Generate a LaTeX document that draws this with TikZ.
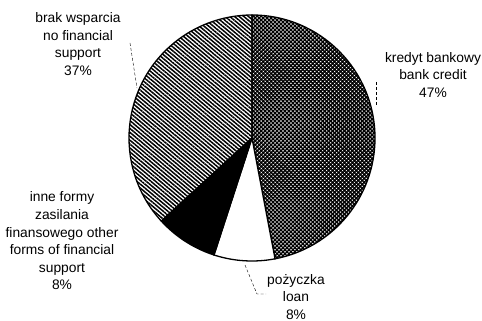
\documentclass[tikz,border=0pt]{standalone}
\usepackage{fontspec}
\setmainfont{Liberation Sans}
\usetikzlibrary{patterns.meta}
\begin{document}
\begin{tikzpicture}[x=1pt,y=-1pt,
  lbl/.style={align=center,font=\fontsize{13.8}{17.6}\selectfont,inner sep=0pt},
  leader/.style={line width=0.4pt,densely dashed},
  slice/.style={draw=black,line width=1.3pt}]
\useasboundingbox (0,0) rectangle (482,321);
\begin{scope}[shift={(252,138)},y=1pt]
\def\R{123}
\coordinate (c) at (0,0);
% bank credit 47%
\filldraw[slice,pattern={Hatch[angle=45,distance=2.8pt,line width=1.4pt]}]
  (c) -- (90:\R) arc[start angle=90,end angle=-79.2,radius=\R] -- cycle;
% loan 8%
\filldraw[slice,fill=white]
  (c) -- (-79.2:\R) arc[start angle=-79.2,end angle=-108,radius=\R] -- cycle;
% other forms 8%
\filldraw[slice,fill=black]
  (c) -- (-108:\R) arc[start angle=-108,end angle=-137.5,radius=\R] -- cycle;
% no financial support 37%
\filldraw[slice,pattern={Lines[angle=-40,distance=3pt,line width=1.5pt]}]
  (c) -- (-137.5:\R) arc[start angle=-137.5,end angle=-270,radius=\R] -- cycle;
\end{scope}
% labels
\node[lbl] (nofin) at (78,44) {brak wsparcia\\no financial\\support\\37\%};
\node[lbl] (bank) at (433,75) {kredyt bankowy\\bank credit\\47\%};
\node[lbl] (other) at (62,241) {inne formy\\zasilania\\finansowego other\\forms of financial\\support\\8\%};
\node[lbl] (loan) at (296,297) {pożyczka\\loan\\8\%};
% leaders
\coordinate (l1a) at (130,43);
\coordinate (l1b) at (137,88);
\draw[leader] (l1a) -- (l1b);
\coordinate (l2a) at (376,82);
\coordinate (l2b) at (376,106);
\draw[leader] (l2a) -- (l2b);
\coordinate (l3a) at (245,265);
\coordinate (l3b) at (257,294);
\coordinate (l3c) at (266,294);
\draw[leader] (l3a) -- (l3b) -- (l3c);
\end{tikzpicture}
\end{document}
